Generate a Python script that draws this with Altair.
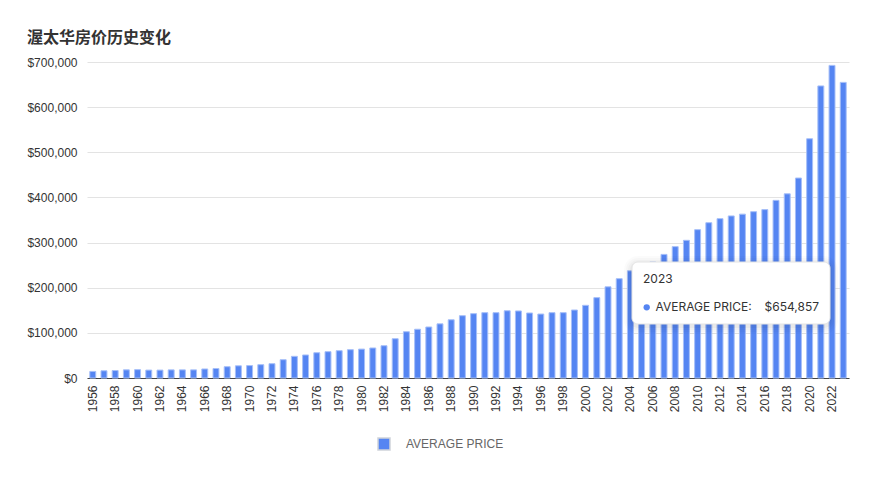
import altair as alt
import pandas as pd

years = list(range(1956, 2024))
prices = [14600, 16000, 16500, 18000, 18500, 17500, 17500, 18000, 18000, 18000, 20000, 21000,
          25000, 27000, 27500, 29500, 31700, 40500, 48000, 51000, 56000, 58300, 60500, 62700,
          64000, 66500, 71500, 87000, 102500, 108000, 113000, 120000, 129000, 138000, 142500, 144700,
          144700, 149000, 148500, 144000, 141700, 144700, 144700, 150600, 161000, 178000, 202000, 220000,
          237500, 248000, 257000, 273800, 291000, 305000, 328600, 344000, 353000, 359000, 363000, 368400,
          373000, 393500, 408000, 443000, 530000, 647000, 692500, 654857]
series_name = "AVERAGE PRICE"
y_ticks = [0, 100000, 200000, 300000, 400000, 500000, 600000, 700000]
x_label_years = [yr for yr in years if yr % 2 == 0]
title_text = "渥太华房价历史变化"

BLUE = "#5585F2"

df = pd.DataFrame({"year": years, "price": prices, "series": [series_name] * len(years)})
tip = pd.DataFrame({
    "label": [str(years[-1])],
    "name": [series_name + ":"],
    "value": ["${:,}".format(prices[-1])],
})

bars = alt.Chart(df).mark_bar(stroke="#a6bff8", strokeWidth=1).encode(
    x=alt.X("year:O",
            scale=alt.Scale(paddingInner=0.47, paddingOuter=0.25),
            axis=alt.Axis(values=x_label_years, labelAngle=-90, labelPadding=7, ticks=False,
                          title=None, domainColor="#444", domainWidth=1, labelColor="#333",
                          labelFontSize=12, labelFont="Liberation Sans", grid=False)),
    y=alt.Y("price:Q",
            scale=alt.Scale(domain=[0, 700000]),
            axis=alt.Axis(values=y_ticks, format="$,.0f", title=None, ticks=False, domain=False,
                          labelPadding=10, gridColor="#e3e3e3", labelColor="#333",
                          labelFontSize=12, labelFont="Liberation Sans")),
    color=alt.Color("series:N", scale=alt.Scale(range=[BLUE]),
                    legend=alt.Legend(title=None, orient="none", legendX=290, legendY=375,
                                      symbolType="square", symbolSize=144,
                                      symbolStrokeColor="#cfd3da", symbolStrokeWidth=1.5,
                                      symbolFillColor=BLUE,
                                      labelOffset=15, labelColor="#666", labelFontSize=12,
                                      labelFont="Liberation Sans", padding=0)),
)

layers = [bars]
# tooltip shadow
for k, op in [(8, 0.015), (6, 0.02), (4, 0.025), (2, 0.03)]:
    layers.append(alt.Chart(tip).mark_rect(cornerRadius=6 + k, fill="#000", opacity=op).encode(
        x=alt.value(545 - k), x2=alt.value(743 + k), y=alt.value(200 - k + 2), y2=alt.value(262 + k + 2)))
layers.append(alt.Chart(tip).mark_rect(cornerRadius=6, fill="white", stroke="#e4e4e4", strokeWidth=1).encode(
    x=alt.value(545), x2=alt.value(743), y=alt.value(200), y2=alt.value(262)))
layers.append(alt.Chart(tip).mark_text(align="left", baseline="middle", font="Inter", fontSize=12,
                                       color="#333").encode(
    x=alt.value(556), y=alt.value(216.5), text="label:N"))
layers.append(alt.Chart(tip).mark_circle(size=40, color=BLUE, opacity=1).encode(
    x=alt.value(559.7), y=alt.value(245.3)))
layers.append(alt.Chart(tip).mark_text(align="left", baseline="middle", font="Inter", fontSize=12,
                                       color="#333").encode(
    x=alt.value(568.5), y=alt.value(245.3), text="name:N"))
layers.append(alt.Chart(tip).mark_text(align="right", baseline="middle", font="Inter", fontSize=12,
                                       color="#333").encode(
    x=alt.value(732), y=alt.value(245.3), text="value:N"))

chart = alt.layer(*layers).properties(
    width=762, height=316,
    title=alt.TitleParams(title_text, anchor="start", font="Noto Sans CJK SC", fontSize=16,
                          fontWeight="bold", color="#333", offset=10),
    autosize=alt.AutoSizeParams(type="none"),
    padding={"left": 79, "top": 54, "right": 16, "bottom": 96},
    background="white",
).configure_view(stroke=None)

chart.save("out.html", embed_options={"renderer": "svg", "actions": False})
